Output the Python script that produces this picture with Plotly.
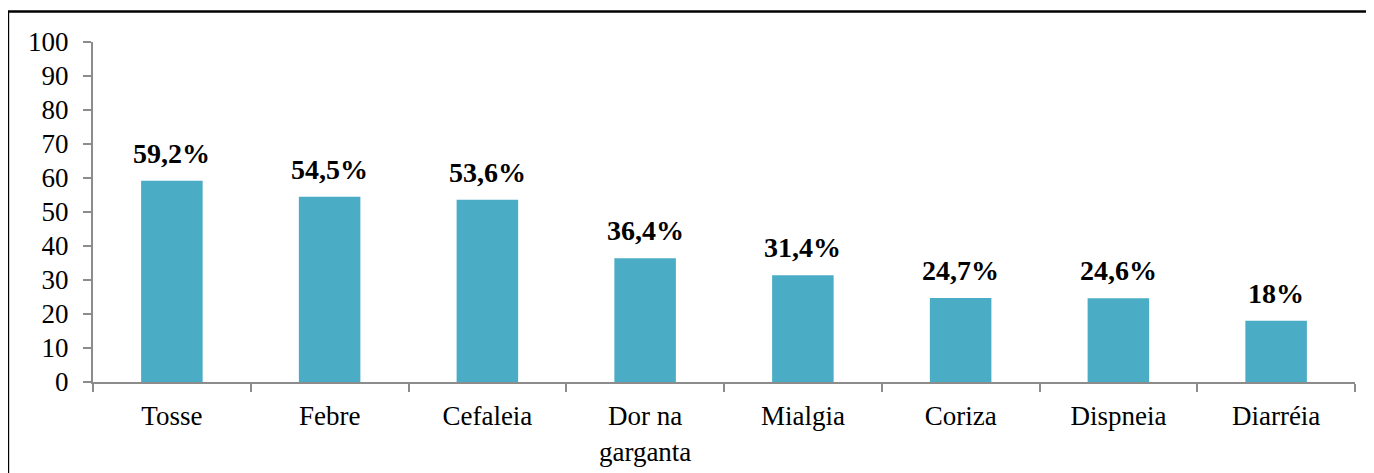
import plotly.graph_objects as go

categories = ["Tosse", "Febre", "Cefaleia", "Dor na<br>garganta", "Mialgia", "Coriza", "Dispneia", "Diarréia"]
values = [59.2, 54.5, 53.6, 36.4, 31.4, 24.7, 24.6, 18]
labels = ["59,2%", "54,5%", "53,6%", "36,4%", "31,4%", "24,7%", "24,6%", "18%"]
y_ticks = list(range(0, 101, 10))

FONT = "Liberation Serif"
AXIS_COLOR = "#8c8c8c"

fig = go.Figure()
fig.add_trace(go.Bar(
    x=categories, y=values,
    marker=dict(color="#4BACC6", line=dict(width=0)),
    width=0.39,
))

for c, v, t in zip(categories, values, labels):
    fig.add_annotation(x=c, y=v, text="<b>" + t + "</b>", showarrow=False,
                       yanchor="bottom", yshift=10,
                       font=dict(family=FONT, size=28, color="black"))

# outer frame
fig.add_shape(type="line", xref="paper", yref="paper", x0=-0.0674, x1=1.2, y0=1.0897, y1=1.0897,
              line=dict(color="black", width=2.5))
fig.add_shape(type="line", xref="paper", yref="paper", x0=-0.0674, x1=-0.0674, y0=1.0897, y1=-0.4,
              line=dict(color="black", width=2.5))

fig.update_layout(
    width=1374, height=473,
    margin=dict(l=85, r=27, t=34, b=99),
    paper_bgcolor="white", plot_bgcolor="white",
    showlegend=False,
    font=dict(family=FONT, size=27, color="black"),
    xaxis=dict(
        showline=True, linecolor=AXIS_COLOR, linewidth=2,
        ticks="outside", tickson="boundaries", ticklen=8, tickcolor=AXIS_COLOR, tickwidth=2,
        tickfont=dict(family=FONT, size=27, color="black"),
        ticklabelstandoff=9,
        showgrid=False, zeroline=False,
    ),
    yaxis=dict(
        range=[0, 100], tickvals=y_ticks,
        showline=True, linecolor=AXIS_COLOR, linewidth=2,
        ticks="outside", ticklen=8, tickcolor=AXIS_COLOR, tickwidth=2,
        tickfont=dict(family=FONT, size=27, color="black"),
        ticklabelstandoff=9,
        showgrid=False, zeroline=False,
    ),
)

fig.write_html("out.html")
